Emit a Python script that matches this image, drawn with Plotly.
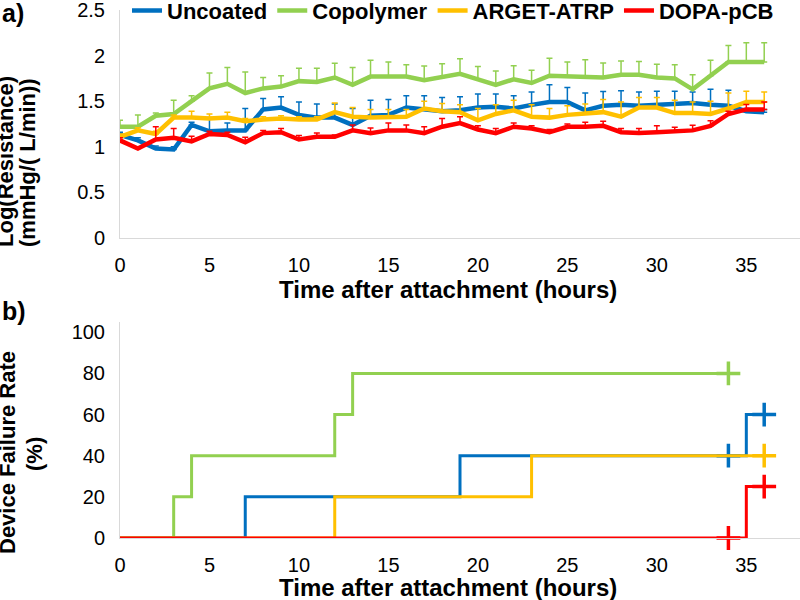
import plotly.graph_objects as go
from plotly.subplots import make_subplots

# ---------------- data ----------------
hours = list(range(37))

series_names = ["Uncoated", "Copolymer", "ARGET-ATRP", "DOPA-pCB"]
series_colors = ["#0070C0", "#92D050", "#FFC000", "#FF0000"]

uncoated = [1.13, 1.07, 0.98, 0.97, 1.24, 1.17, 1.18, 1.18, 1.41, 1.43, 1.35, 1.32, 1.32, 1.24, 1.34, 1.35,
            1.43, 1.41, 1.39, 1.40, 1.43, 1.44, 1.42, 1.46, 1.49, 1.49, 1.40, 1.45, 1.46, 1.45, 1.46, 1.46,
            1.48, 1.46, 1.45, 1.39, 1.38]
uncoated_err = [0.03, 0.03, 0.03, 0.03, 0.03, 0.15, 0.08, 0.24, 0.12, 0.12, 0.14, 0.15, 0.15, 0.18, 0.17, 0.17,
                0.13, 0.15, 0.15, 0.15, 0.15, 0.14, 0.14, 0.14, 0.19, 0.16, 0.19, 0.155, 0.155, 0.15, 0.15, 0.15,
                0.12, 0.17, 0.17, 0.03, 0.03]

copolymer = [1.22, 1.22, 1.34, 1.36, 1.50, 1.64, 1.69, 1.59, 1.64, 1.66, 1.72, 1.71, 1.76, 1.68, 1.77, 1.77,
             1.77, 1.73, 1.76, 1.80, 1.74, 1.68, 1.74, 1.70, 1.78, 1.77, 1.76, 1.76, 1.79, 1.79, 1.76, 1.75,
             1.63, 1.78, 1.93, 1.93, 1.93]
copolymer_err = [0.07, 0.13, 0.03, 0.15, 0.06, 0.17, 0.18, 0.23, 0.12, 0.12, 0.14, 0.15, 0.155, 0.19, 0.18, 0.16,
                 0.13, 0.155, 0.15, 0.166, 0.14, 0.15, 0.15, 0.14, 0.19, 0.16, 0.195, 0.16, 0.15, 0.145, 0.145,
                 0.15, 0.16, 0.17, 0.18, 0.21, 0.21]

arget = [1.11, 1.18, 1.14, 1.32, 1.32, 1.31, 1.32, 1.28, 1.30, 1.31, 1.30, 1.30, 1.38, 1.33, 1.32, 1.32,
         1.33, 1.42, 1.39, 1.38, 1.29, 1.36, 1.40, 1.33, 1.32, 1.35, 1.37, 1.38, 1.33, 1.43, 1.43, 1.37,
         1.37, 1.36, 1.42, 1.49, 1.49]
arget_err = [0.03, 0.03, 0.03, 0.03, 0.07, 0.05, 0.06, 0.03, 0.03, 0.03, 0.03, 0.03, 0.10, 0.10, 0.09, 0.09,
             0.08, 0.08, 0.085, 0.08, 0.13, 0.10, 0.11, 0.13, 0.10, 0.10, 0.10, 0.14, 0.16, 0.11, 0.11, 0.14,
             0.12, 0.14, 0.17, 0.12, 0.11]

dopa = [1.07, 0.98, 1.08, 1.10, 1.06, 1.14, 1.13, 1.05, 1.15, 1.16, 1.08, 1.11, 1.11, 1.18, 1.15, 1.18,
        1.18, 1.15, 1.22, 1.26, 1.19, 1.15, 1.22, 1.20, 1.16, 1.22, 1.22, 1.23, 1.16, 1.15, 1.16, 1.17,
        1.18, 1.23, 1.36, 1.41, 1.41]
dopa_err = [0.03, 0.02, 0.14, 0.10, 0.055, 0.03, 0.03, 0.055, 0.03, 0.04, 0.045, 0.04, 0.02, 0.06, 0.055, 0.08,
            0.06, 0.07, 0.09, 0.07, 0.04, 0.05, 0.04, 0.03, 0.03, 0.03, 0.05, 0.05, 0.04, 0.05, 0.07, 0.045,
            0.055, 0.055, 0.03, 0.055, 0.08]

# failure-rate step curves (time of step, failure % after step)
fail_uncoated_t = [0, 7, 19, 35, 36]
fail_uncoated_v = [0, 20, 40, 60, 60]
fail_copolymer_t = [0, 3, 4, 12, 13, 34]
fail_copolymer_v = [0, 20, 40, 60, 80, 80]
fail_arget_t = [0, 12, 23, 36]
fail_arget_v = [0, 20, 40, 40]
fail_dopa_t = [0, 35, 36]
fail_dopa_v = [0, 25, 25]

# censoring marks
cens_uncoated_t = [34, 36]
cens_uncoated_v = [40, 60]
cens_copolymer_t = [34]
cens_copolymer_v = [80]
cens_arget_t = [36]
cens_arget_v = [40]
cens_dopa_t = [34, 36]
cens_dopa_v = [0, 25]

x_ticks = [0, 5, 10, 15, 20, 25, 30, 35]
resist_ticks = [0, 0.5, 1, 1.5, 2, 2.5]
resist_tick_text = ["0", "0.5", "1", "1.5", "2", "2.5"]
fail_ticks = [0, 20, 40, 60, 80, 100]

# ---------------- figure ----------------
FONT = "Liberation Sans, Arial, sans-serif"
W, H = 800, 600
L = 120


def py(p):
    return 1 - p / H


def px(p):
    return (p - L) / (W - L)


fig = make_subplots(rows=2, cols=1)

resist = [uncoated, copolymer, arget, dopa]
resist_err = [uncoated_err, copolymer_err, arget_err, dopa_err]
for name, col, vals, err in zip(series_names, series_colors, resist, resist_err):
    fig.add_trace(go.Scatter(
        x=hours, y=vals, mode="lines", name=name,
        line=dict(color=col, width=4.5),
        error_y=dict(type="data", symmetric=False, array=err, arrayminus=[0] * len(err),
                     color=col, thickness=1.5, width=3),
        cliponaxis=False,
    ), row=1, col=1)

fail_t = [fail_uncoated_t, fail_copolymer_t, fail_arget_t, fail_dopa_t]
fail_v = [fail_uncoated_v, fail_copolymer_v, fail_arget_v, fail_dopa_v]
cens_t = [cens_uncoated_t, cens_copolymer_t, cens_arget_t, cens_dopa_t]
cens_v = [cens_uncoated_v, cens_copolymer_v, cens_arget_v, cens_dopa_v]
for name, col, t, v, ct, cv in zip(series_names, series_colors, fail_t, fail_v, cens_t, cens_v):
    fig.add_trace(go.Scatter(
        x=t, y=v, mode="lines", name=name, line=dict(color=col, width=3, shape="hv"),
        showlegend=False, cliponaxis=False,
    ), row=2, col=1)
    fig.add_trace(go.Scatter(
        x=ct, y=cv, mode="markers", name=name,
        marker=dict(symbol="cross-thin", size=17, line=dict(color=col, width=3.5)),
        showlegend=False, cliponaxis=False,
    ), row=2, col=1)

axis_common = dict(showgrid=False, zeroline=False, showline=True, linecolor="#D9D9D9", linewidth=1,
                   ticks="", tickfont=dict(family=FONT, size=20, color="#000000"), automargin=False,
                   ticklabeloverflow="allow")

fig.update_xaxes(**axis_common, range=[0, 38], tickvals=x_ticks, ticklabelstandoff=9, domain=[0, 1])
fig.update_yaxes(**axis_common, ticklabelstandoff=10)
fig.update_yaxes(range=[0, 2.5], tickvals=resist_ticks, ticktext=resist_tick_text,
                 domain=[py(238), py(10)], row=1, col=1)
fig.update_yaxes(range=[0, 105], tickvals=fail_ticks, domain=[py(538), py(322)], row=2, col=1)

title_font = dict(family=FONT, size=24, color="#000000")
ytitle_font = dict(family=FONT, size=22, color="#000000")


def ann(text, x, y, font, angle=0, xanchor="center"):
    return dict(text=text, x=px(x), y=py(y), xref="paper", yref="paper", showarrow=False,
                font=font, textangle=angle, xanchor=xanchor, yanchor="middle")


annotations = [
    ann("<b>Time after attachment (hours)</b>", 448, 289, title_font),
    ann("<b>Time after attachment (hours)</b>", 448, 587, title_font),
    ann("<b>Log(Resistance)</b>", 5, 162, ytitle_font, -90),
    ann("<b>(mmHg/( L/min))</b>", 27, 162, ytitle_font, -90),
    ann("<b>Device Failure Rate</b>", 7, 453, ytitle_font, -90),
    ann("<b>(%)</b>", 34, 454, ytitle_font, -90),
    ann("<b>a)</b>", 0, 13, dict(family=FONT, size=25, color="#000000"), 0, "left"),
    ann("<b>b)</b>", 0, 311, dict(family=FONT, size=25, color="#000000"), 0, "left"),
]

fig.update_layout(
    width=W, height=H,
    margin=dict(l=L, r=0, t=0, b=0, autoexpand=False),
    paper_bgcolor="white", plot_bgcolor="white",
    font=dict(family=FONT, color="#000000"),
    showlegend=True,
    legend=dict(orientation="h", x=px(127), y=1.017, xanchor="left", yanchor="top",
                bgcolor="rgba(0,0,0,0)", font=dict(family=FONT, size=22, color="#000000", weight="bold"),
                itemclick=False, itemdoubleclick=False),
    annotations=annotations,
)

fig.write_html("out.html", config={"displayModeBar": False},
               post_script="document.body.style.margin='0';document.body.style.overflow='hidden';")
